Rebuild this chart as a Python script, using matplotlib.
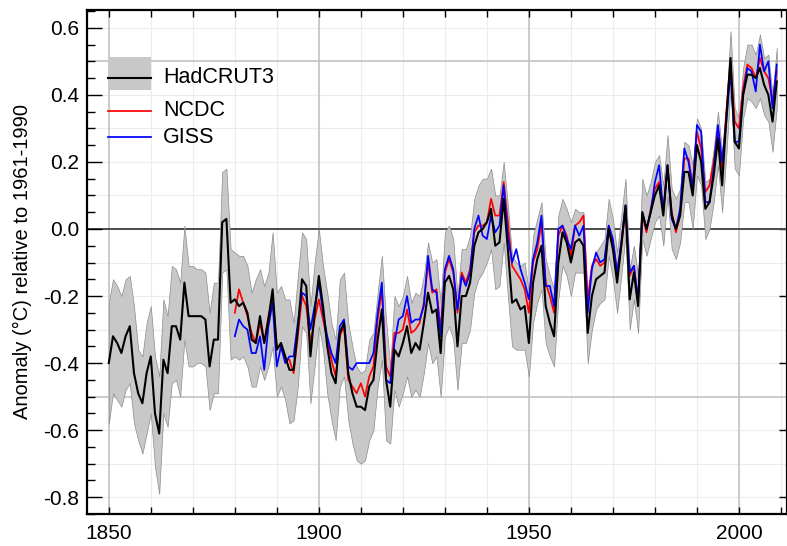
import numpy as np
import matplotlib
matplotlib.use("Agg")
import matplotlib.pyplot as plt
from matplotlib.patches import Rectangle
from matplotlib.lines import Line2D
from matplotlib.ticker import MultipleLocator

plt.rcParams['font.family'] = ['Liberation Sans', 'DejaVu Sans']

# annual anomalies (deg C) relative to 1961-1990
years_had = np.arange(1850, 2010)
hadcrut = [
    -0.40, -0.32, -0.34, -0.37, -0.32, -0.29, -0.43, -0.49, -0.52, -0.43,
    -0.38, -0.55, -0.61, -0.39, -0.43, -0.29, -0.29, -0.33, -0.16, -0.26,
    -0.26, -0.26, -0.26, -0.27, -0.41, -0.33, -0.33, 0.02, 0.03, -0.22,
    -0.21, -0.23, -0.22, -0.25, -0.33, -0.34, -0.26, -0.34, -0.27, -0.18,
    -0.36, -0.34, -0.38, -0.42, -0.42, -0.30, -0.15, -0.17, -0.38, -0.25,
    -0.14, -0.23, -0.35, -0.43, -0.46, -0.31, -0.28, -0.43, -0.49, -0.53,
    -0.53, -0.54, -0.47, -0.45, -0.33, -0.24, -0.45, -0.53, -0.36, -0.38,
    -0.34, -0.29, -0.37, -0.34, -0.36, -0.28, -0.19, -0.25, -0.24, -0.37,
    -0.16, -0.14, -0.18, -0.35, -0.20, -0.20, -0.16, -0.05, -0.01, 0.00,
    0.02, 0.06, -0.05, -0.04, 0.09, -0.06, -0.22, -0.21, -0.24, -0.23,
    -0.34, -0.16, -0.09, -0.05, -0.23, -0.28, -0.32, -0.10, -0.01, -0.04,
    -0.10, -0.04, -0.03, -0.05, -0.31, -0.20, -0.15, -0.14, -0.13, 0.00,
    -0.06, -0.16, -0.05, 0.07, -0.21, -0.13, -0.23, 0.05, 0.00, 0.05,
    0.10, 0.13, 0.04, 0.19, 0.04, 0.00, 0.04, 0.17, 0.17, 0.10,
    0.25, 0.20, 0.06, 0.08, 0.16, 0.27, 0.13, 0.33, 0.51, 0.26,
    0.24, 0.40, 0.46, 0.46, 0.45, 0.48, 0.43, 0.40, 0.32, 0.44,
]
had_lo = [
    -0.58, -0.49, -0.51, -0.53, -0.48, -0.46, -0.58, -0.63, -0.67, -0.61,
    -0.55, -0.71, -0.79, -0.55, -0.59, -0.46, -0.45, -0.50, -0.33, -0.41,
    -0.41, -0.40, -0.40, -0.41, -0.54, -0.49, -0.49, -0.13, -0.12, -0.39,
    -0.38, -0.39, -0.38, -0.41, -0.47, -0.47, -0.41, -0.45, -0.41, -0.35,
    -0.50, -0.47, -0.51, -0.58, -0.57, -0.47, -0.29, -0.31, -0.52, -0.41,
    -0.29, -0.36, -0.49, -0.57, -0.63, -0.47, -0.44, -0.57, -0.64, -0.69,
    -0.70, -0.69, -0.63, -0.60, -0.47, -0.39, -0.63, -0.64, -0.48, -0.53,
    -0.49, -0.44, -0.50, -0.48, -0.50, -0.43, -0.34, -0.40, -0.38, -0.50,
    -0.32, -0.29, -0.33, -0.48, -0.34, -0.34, -0.30, -0.19, -0.15, -0.13,
    -0.10, -0.06, -0.18, -0.17, -0.04, -0.20, -0.35, -0.36, -0.36, -0.36,
    -0.44, -0.28, -0.22, -0.18, -0.34, -0.38, -0.41, -0.21, -0.11, -0.14,
    -0.20, -0.13, -0.13, -0.13, -0.40, -0.30, -0.24, -0.22, -0.21, -0.08,
    -0.15, -0.25, -0.14, -0.02, -0.30, -0.21, -0.31, -0.03, -0.08, -0.03,
    0.02, 0.04, -0.05, 0.10, -0.06, -0.09, -0.04, 0.08, 0.08, 0.00,
    0.16, 0.13, -0.03, 0.00, 0.08, 0.19, 0.05, 0.22, 0.42, 0.18,
    0.16, 0.33, 0.39, 0.38, 0.36, 0.39, 0.34, 0.32, 0.23, 0.36,
]
had_hi = [
    -0.22, -0.15, -0.17, -0.20, -0.15, -0.14, -0.23, -0.36, -0.38, -0.28,
    -0.23, -0.38, -0.44, -0.21, -0.26, -0.11, -0.12, -0.16, 0.01, -0.11,
    -0.11, -0.12, -0.12, -0.13, -0.25, -0.16, -0.16, 0.17, 0.18, -0.06,
    -0.07, -0.08, -0.08, -0.11, -0.19, -0.15, -0.12, -0.17, -0.13, -0.01,
    -0.19, -0.17, -0.21, -0.21, -0.28, -0.14, -0.01, -0.03, -0.23, -0.10,
    0.00, -0.11, -0.19, -0.28, -0.33, -0.15, -0.13, -0.28, -0.35, -0.41,
    -0.43, -0.42, -0.33, -0.31, -0.19, -0.08, -0.27, -0.41, -0.20, -0.23,
    -0.20, -0.14, -0.22, -0.19, -0.20, -0.14, -0.04, -0.10, -0.09, -0.22,
    -0.01, 0.01, -0.03, -0.20, -0.06, -0.06, -0.02, 0.09, 0.13, 0.15,
    0.15, 0.18, 0.10, 0.10, 0.20, 0.07, -0.08, -0.10, -0.11, -0.10,
    -0.19, -0.02, 0.03, 0.08, -0.09, -0.14, -0.18, 0.04, 0.09, 0.06,
    0.02, 0.06, 0.05, 0.05, -0.21, -0.10, -0.07, -0.05, -0.03, 0.09,
    0.03, -0.07, 0.04, 0.15, -0.12, -0.05, -0.14, 0.15, 0.10, 0.14,
    0.20, 0.22, 0.13, 0.28, 0.12, 0.09, 0.12, 0.26, 0.25, 0.19,
    0.33, 0.30, 0.14, 0.15, 0.24, 0.35, 0.23, 0.37, 0.59, 0.36,
    0.33, 0.48, 0.55, 0.55, 0.52, 0.58, 0.51, 0.52, 0.40, 0.54,
]

years_other = np.arange(1880, 2010)
ncdc = [
    -0.25, -0.18, -0.22, -0.26, -0.31, -0.34, -0.28, -0.34, -0.26, -0.21,
    -0.35, -0.35, -0.39, -0.39, -0.43, -0.32, -0.20, -0.23, -0.34, -0.27,
    -0.21, -0.27, -0.33, -0.39, -0.44, -0.32, -0.29, -0.45, -0.47, -0.49,
    -0.46, -0.50, -0.44, -0.41, -0.27, -0.18, -0.41, -0.44, -0.31, -0.31,
    -0.30, -0.24, -0.31, -0.30, -0.28, -0.22, -0.10, -0.19, -0.18, -0.30,
    -0.13, -0.09, -0.13, -0.25, -0.13, -0.16, -0.12, -0.01, 0.01, 0.01,
    0.02, 0.09, 0.04, 0.04, 0.14, 0.02, -0.11, -0.13, -0.15, -0.18,
    -0.25, -0.10, -0.06, 0.02, -0.16, -0.20, -0.25, -0.02, 0.01, -0.02,
    -0.08, 0.01, 0.02, 0.04, -0.21, -0.11, -0.09, -0.11, -0.10, 0.01,
    -0.04, -0.13, -0.05, 0.06, -0.14, -0.11, -0.22, 0.04, -0.01, 0.06,
    0.12, 0.14, 0.06, 0.18, 0.05, -0.01, 0.04, 0.21, 0.21, 0.13,
    0.29, 0.24, 0.11, 0.13, 0.20, 0.30, 0.18, 0.35, 0.50, 0.32,
    0.30, 0.42, 0.49, 0.48, 0.45, 0.51, 0.47, 0.45, 0.38, 0.47,
]
giss = [
    -0.32, -0.27, -0.29, -0.30, -0.37, -0.37, -0.32, -0.42, -0.29, -0.22,
    -0.41, -0.35, -0.40, -0.38, -0.38, -0.28, -0.19, -0.20, -0.30, -0.23,
    -0.16, -0.25, -0.32, -0.37, -0.40, -0.29, -0.27, -0.41, -0.42, -0.40,
    -0.40, -0.40, -0.40, -0.37, -0.25, -0.16, -0.45, -0.46, -0.34, -0.27,
    -0.26, -0.20, -0.28, -0.27, -0.27, -0.23, -0.08, -0.18, -0.19, -0.32,
    -0.12, -0.08, -0.12, -0.24, -0.14, -0.17, -0.13, 0.00, 0.04, -0.02,
    -0.03, 0.04, -0.01, 0.01, 0.13, -0.02, -0.10, -0.06, -0.12, -0.16,
    -0.21, -0.09, -0.04, 0.04, -0.17, -0.17, -0.23, 0.00, 0.01, -0.03,
    -0.06, 0.01, -0.02, 0.01, -0.25, -0.12, -0.07, -0.10, -0.09, 0.01,
    -0.03, -0.13, -0.04, 0.07, -0.13, -0.11, -0.21, 0.05, 0.00, 0.05,
    0.14, 0.19, 0.05, 0.19, 0.03, 0.00, 0.06, 0.24, 0.20, 0.12,
    0.31, 0.29, 0.08, 0.08, 0.18, 0.31, 0.20, 0.32, 0.47, 0.26,
    0.26, 0.40, 0.48, 0.47, 0.41, 0.55, 0.47, 0.50, 0.36, 0.49,
]

fig = plt.figure(figsize=(7.87, 5.46), dpi=100)
ax = fig.add_axes([0.111, 0.0586, 0.8877, 0.9231])

# background grid
for v in np.arange(-0.8, 0.65, 0.1):
    ax.axhline(v, color='#ececec', lw=0.8, zorder=0)
for yr in range(1850, 2011, 10):
    ax.axvline(yr, color='#ececec', lw=0.8, zorder=0)
for yr in (1850, 1900, 1950, 2000):
    ax.axvline(yr, color='#c4c4c4', lw=1.2, zorder=0.5)
for v in (-0.5, 0.5):
    ax.axhline(v, color='#c4c4c4', lw=1.2, zorder=0.5)
ax.axhline(0, color='#4a4a4a', lw=1.4, zorder=0.6)

ax.fill_between(years_had, had_lo, had_hi, facecolor='#c8c8c8',
                edgecolor='#8c8c8c', lw=0.5, zorder=1)
ax.plot(years_other, ncdc, color='#ff0000', lw=1.25, zorder=2)
ax.plot(years_other, giss, color='#0000ff', lw=1.25, zorder=3)
ax.plot(years_had, hadcrut, color='black', lw=1.5, zorder=4)

ax.set_xlim(1844.9, 2011.2)
ax.set_ylim(-0.85, 0.653)
ax.xaxis.set_major_locator(MultipleLocator(50))
ax.xaxis.set_minor_locator(MultipleLocator(10))
ax.yaxis.set_minor_locator(MultipleLocator(0.05))
ax.set_yticks(np.arange(-0.8, 0.61, 0.2))
ax.set_yticklabels(['-0.8', '-0.6', '-0.4', '-0.2', '0.0', '0.2', '0.4', '0.6'])

ax.tick_params(which='both', direction='in', top=True, right=False,
               labelsize=15, width=1.0, color='black')
ax.tick_params(axis='x', which='both', length=5, pad=7)
ax.tick_params(axis='y', which='major', length=11, pad=6)
ax.tick_params(axis='y', which='minor', length=6)

# short major ticks on the right side only
sec = ax.secondary_yaxis('right')
sec.set_yticks(np.arange(-0.8, 0.61, 0.2))
sec.tick_params(direction='in', length=5, width=1.0, labelright=False)
sec.yaxis.set_minor_locator(plt.NullLocator())
sec.spines['right'].set_linewidth(0.8)

for side in ('left', 'bottom', 'top'):
    ax.spines[side].set_linewidth(1.6)
ax.spines['right'].set_linewidth(0.8)

ax.set_ylabel('Anomaly (\u00b0C) relative to 1961-1990', fontsize=14.5, labelpad=8)

# legend drawn by hand in axes coordinates
tr = ax.transAxes
ax.add_patch(Rectangle((0.0296, 0.8413), 0.0616, 0.0654, transform=tr,
                       facecolor='#c8c8c8', edgecolor='none', zorder=5))
ax.add_line(Line2D([0.0296, 0.0912], [0.8651, 0.8651], transform=tr,
                   color='black', lw=1.5, zorder=6))
ax.add_line(Line2D([0.0296, 0.0912], [0.7996, 0.7996], transform=tr,
                   color='#ff0000', lw=1.25, zorder=6))
ax.add_line(Line2D([0.0296, 0.0912], [0.7480, 0.7480], transform=tr,
                   color='#0000ff', lw=1.25, zorder=6))
for label, ypos in (('HadCRUT3', 0.8651), ('NCDC', 0.7996), ('GISS', 0.7480)):
    ax.text(0.1083, ypos, label, transform=tr, fontsize=15.5,
            va='center', ha='left', zorder=6)

fig.savefig('out.png', dpi=100)
